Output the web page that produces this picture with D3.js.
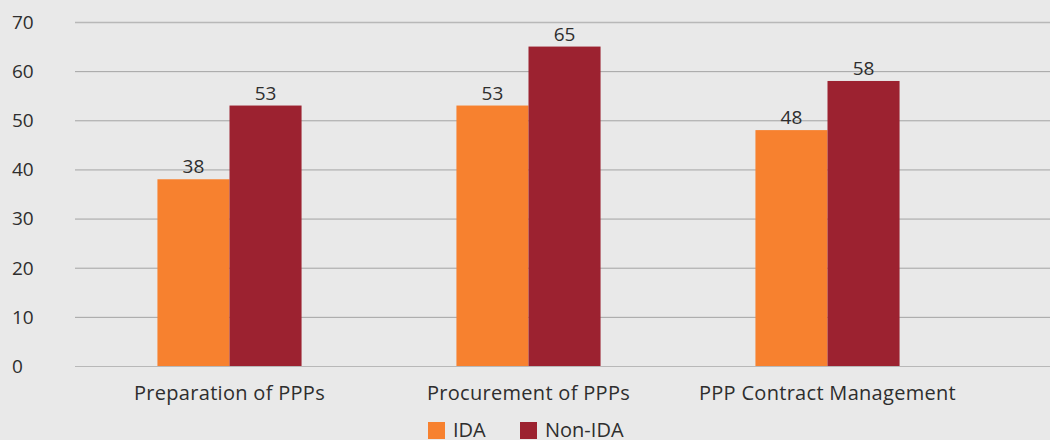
<!DOCTYPE html>
<meta charset="utf-8">
<style>
  body { margin: 0; background: #e9e9e9; }
  text { font-family: "Open Sans", Lato, sans-serif; fill: #2e2e2e; }
</style>
<body>
<svg id="chart" width="1050" height="440"></svg>
<script src="https://d3js.org/d3.v7.min.js"></script>
<script>

var categories = ["Preparation of PPPs", "Procurement of PPPs", "PPP Contract Management"];
var series = ["IDA", "Non-IDA"];
var ida = [38, 53, 48];
var nonIda = [53, 65, 58];
var yTicks = [0, 10, 20, 30, 40, 50, 60, 70];
var colors = ["#f7812f", "#9c2230"];

var data = categories.map(function(c, i) {
  return { cat: c, values: [ida[i], nonIda[i]] };
});

var svg = d3.select("#chart");

var x0 = d3.scaleBand()
    .domain(categories)
    .range([80, 977])
    .paddingInner(0.518)
    .paddingOuter(0.259);

var x1 = d3.scaleBand()
    .domain(series)
    .range([0, x0.bandwidth()]);

var y = d3.scaleLinear()
    .domain([0, 70])
    .range([366, 22]);

// gridlines
svg.append("g").selectAll("line")
  .data(yTicks)
  .enter().append("line")
    .attr("x1", 75)
    .attr("x2", 1050)
    .attr("y1", function(d) { return y(d) + 0.5; })
    .attr("y2", function(d) { return y(d) + 0.5; })
    .attr("stroke", function(d) { return d == 70 || d == 0 ? "#b8b8b8" : "#a3a3a3"; })
    .attr("stroke-width", function(d) { return d == 70 ? 1.5 : 1; });

// y labels
svg.append("g").selectAll("text")
  .data(yTicks)
  .enter().append("text")
    .attr("x", 12)
    .attr("y", function(d) { return y(d); })
    .attr("dy", "0.36em")
    .style("font-size", "19px")
    .text(function(d) { return d; });

var groups = svg.append("g").selectAll("g")
  .data(data)
  .enter().append("g")
    .attr("transform", function(d) { return "translate(" + x0(d.cat) + ",0)"; });

groups.selectAll("rect")
  .data(function(d) { return d.values; })
  .enter().append("rect")
    .attr("x", function(d, i) { return x1(series[i]); })
    .attr("y", function(d) { return y(d); })
    .attr("width", x1.bandwidth())
    .attr("height", function(d) { return y(0) - y(d); })
    .attr("fill", function(d, i) { return colors[i]; });

groups.selectAll(".lbl")
  .data(function(d) { return d.values; })
  .enter().append("text")
    .attr("class", "lbl")
    .attr("x", function(d, i) { return x1(series[i]) + x1.bandwidth() / 2; })
    .attr("y", function(d) { return y(d) - 6; })
    .attr("text-anchor", "middle")
    .style("font-size", "19px")
    .text(function(d) { return d; });

// category labels
svg.append("g").selectAll("text")
  .data(categories)
  .enter().append("text")
    .attr("x", function(d) { return x0(d) + x0.bandwidth() / 2; })
    .attr("y", 400)
    .attr("text-anchor", "middle")
    .style("font-size", "20px")
    .style("letter-spacing", "0.3px")
    .text(function(d) { return d; });

// legend
var legendX = [428, 520];
var legend = svg.append("g").selectAll("g")
  .data(series)
  .enter().append("g")
    .attr("transform", function(d, i) { return "translate(" + legendX[i] + ",422)"; });

legend.append("rect")
    .attr("width", 17)
    .attr("height", 17)
    .attr("fill", function(d, i) { return colors[i]; });

legend.append("text")
    .attr("x", 25)
    .attr("y", 15)
    .style("font-size", "20px")
    .text(function(d) { return d; });

</script>
</body>
